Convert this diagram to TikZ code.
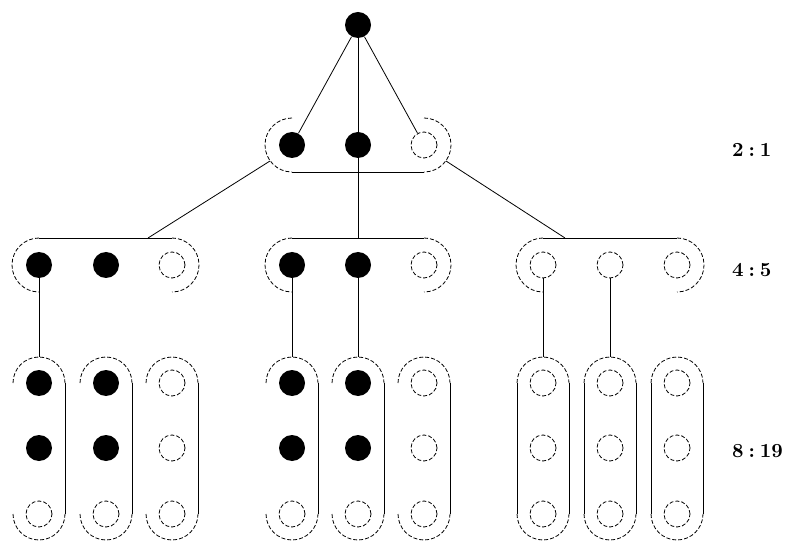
\documentclass[tikz,border=0pt]{standalone}
\usepackage{tikz}
\usetikzlibrary{calc}
\tikzstyle{line}=[draw]
\tikzstyle{fullball}=[circle,fill=black,minimum size=13pt,inner sep=0pt]
\tikzstyle{openball}=[circle,draw,dash pattern=on 2pt off 1pt,minimum size=13pt,inner sep=0pt]
\tikzstyle{rim}=[draw,dash pattern=on 2pt off 1pt]
\newcommand{\rt}[2]{\bfseries #1\kern.25em:\kern.25em#2}

\begin{document}
\begin{tikzpicture}[x=0.5pt,y=-0.5pt]
\useasboundingbox (0,0) rectangle (790,544);
%root
\node[fullball](root) at (358,25){};
%first level
\node[fullball](one) at (292,145){};
\node[fullball](two) at (358,145){};
\node[openball](three) at (424,145){};
\draw[rim](292,118) arc[start angle=90,end angle=270,radius=13.5pt];
\draw[rim](424,118) arc[start angle=90,end angle=-90,radius=13.5pt];
\draw[line](292,172)--(424,172);
\draw[line](root)--(one);
\draw[line](root)--(two);
\draw[line](root)--(three);
%second level
\foreach \a/\b in {39/172,292/424,543/677}{
  \draw[line](\a,238)--(\b,238);
  \draw[rim](\a,238) arc[start angle=90,end angle=270,radius=13.5pt];
  \draw[rim](\b,238) arc[start angle=90,end angle=-90,radius=13.5pt];
}
\node[fullball](four) at (39,265){};
\node[fullball](five) at (106,265){};
\node[openball](six) at (172,265){};
\node[fullball](seven) at (292,265){};
\node[fullball](eight) at (358,265){};
\node[openball](nine) at (424,265){};
\node[openball](ten) at (543,265){};
\node[openball](eleven) at (610,265){};
\node[openball](twelve) at (677,265){};
\coordinate (lend) at (270,161);
\coordinate (lhit) at (148,238);
\coordinate (rend) at (446,161);
\coordinate (rhit) at (565,238);
\coordinate (mhit) at (358,238);
\draw[line](lend)--(lhit);
\draw[line](rend)--(rhit);
\draw[line](two)--(mhit);
%third level
\foreach \x/\n/\p/\q/\r in {39/1/fullball/fullball/openball,106/2/fullball/fullball/openball,172/3/openball/openball/openball,
  292/4/fullball/fullball/openball,358/5/fullball/fullball/openball,424/6/openball/openball/openball,
  543/7/openball/openball/openball,610/8/openball/openball/openball,677/9/openball/openball/openball}{
  \node[\p](c\n a) at (\x,383){};
  \node[\q](c\n b) at (\x,448){};
  \node[\r](c\n c) at (\x,514){};
  \coordinate (top\n) at (\x,357);
  \draw[rim](\x-26,383) arc[start angle=180,end angle=0,radius=13pt];
  \draw[rim](\x-26,514) arc[start angle=180,end angle=360,radius=13pt];
  \draw[line](\x+26,383)--(\x+26,514);
}
\foreach \x in {543,610,677}
  \draw[line](\x-26,383)--(\x-26,514);
\draw[line](four)--(top1);
\draw[line](seven)--(top4);
\draw[line](eight)--(top5);
\draw[line](ten)--(top7);
\draw[line](eleven)--(top8);
%ratios
\node[anchor=west](r1) at (725,150){\rt{2}{1}};
\node[anchor=west](r2) at (725,270){\rt{4}{5}};
\node[anchor=west](r3) at (725,451){\rt{8}{19}};
\end{tikzpicture}
\end{document}
